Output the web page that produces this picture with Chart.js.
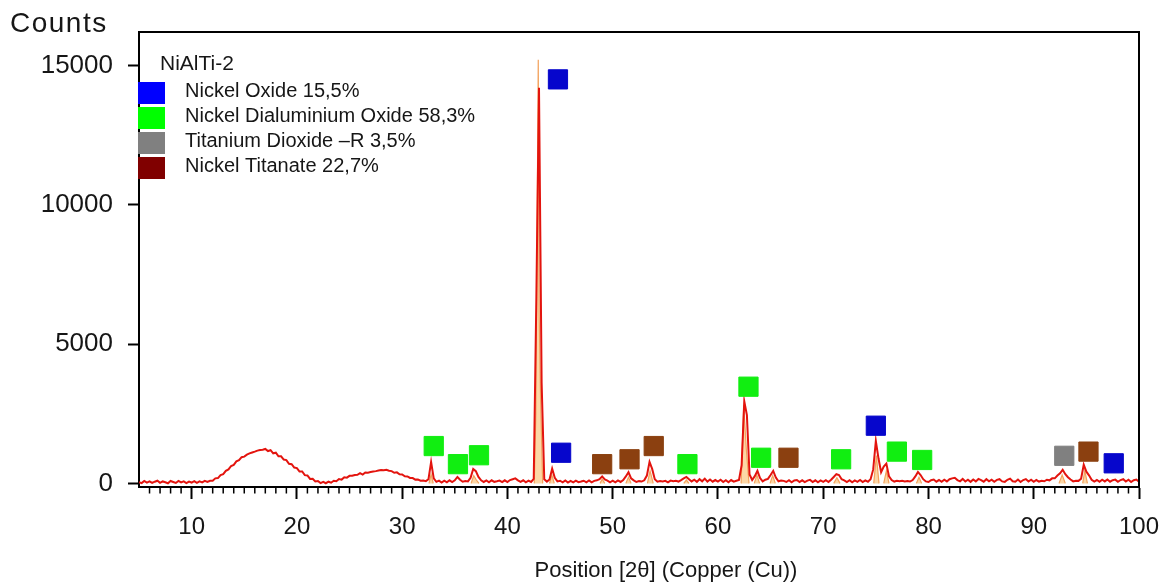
<!DOCTYPE html>
<html>
<head>
<meta charset="utf-8">
<title>NiAlTi-2 XRD</title>
<script src="https://cdn.jsdelivr.net/npm/chart.js@4.4.1/dist/chart.umd.min.js"></script>
<style>
  html, body { margin: 0; padding: 0; background: #fff; }
  #wrap { width: 1160px; height: 584px; }
</style>
</head>
<body>
<div id="wrap"><canvas id="xrd" width="1160" height="584"></canvas></div>
<script>
// ---- Scan: 2θ positions (deg) ----
const twoTheta = [
  5,5.25,5.5,5.75,6,6.25,6.5,6.75,7,7.25,7.5,7.75,8,8.25,8.5,8.75,9,9.25,9.5,9.75,
  10,10.25,10.5,10.75,11,11.25,11.5,11.75,12,12.25,12.5,12.75,13,13.25,13.5,13.75,14,14.25,14.5,14.75,
  15,15.25,15.5,15.75,16,16.25,16.5,16.75,17,17.25,17.5,17.75,18,18.25,18.5,18.75,19,19.25,19.5,19.75,
  20,20.25,20.5,20.75,21,21.25,21.5,21.75,22,22.25,22.5,22.75,23,23.25,23.5,23.75,24,24.25,24.5,24.75,
  25,25.25,25.5,25.75,26,26.25,26.5,26.75,27,27.25,27.5,27.75,28,28.25,28.5,28.75,29,29.25,29.5,29.75,
  30,30.25,30.5,30.75,31,31.25,31.5,31.75,32,32.25,32.5,32.75,33,33.25,33.5,33.75,34,34.25,34.5,34.75,
  35,35.25,35.5,35.75,36,36.25,36.5,36.75,37,37.25,37.5,37.75,38,38.25,38.5,38.75,39,39.25,39.5,39.75,
  40,40.25,40.5,40.75,41,41.25,41.5,41.75,42,42.25,42.5,42.75,43,43.25,43.5,43.75,44,44.25,44.5,44.75,
  45,45.25,45.5,45.75,46,46.25,46.5,46.75,47,47.25,47.5,47.75,48,48.25,48.5,48.75,49,49.25,49.5,49.75,
  50,50.25,50.5,50.75,51,51.25,51.5,51.75,52,52.25,52.5,52.75,53,53.25,53.5,53.75,54,54.25,54.5,54.75,
  55,55.25,55.5,55.75,56,56.25,56.5,56.75,57,57.25,57.5,57.75,58,58.25,58.5,58.75,59,59.25,59.5,59.75,
  60,60.25,60.5,60.75,61,61.25,61.5,61.75,62,62.25,62.5,62.75,63,63.25,63.5,63.75,64,64.25,64.5,64.75,
  65,65.25,65.5,65.75,66,66.25,66.5,66.75,67,67.25,67.5,67.75,68,68.25,68.5,68.75,69,69.25,69.5,69.75,
  70,70.25,70.5,70.75,71,71.25,71.5,71.75,72,72.25,72.5,72.75,73,73.25,73.5,73.75,74,74.25,74.5,74.75,
  75,75.25,75.5,75.75,76,76.25,76.5,76.75,77,77.25,77.5,77.75,78,78.25,78.5,78.75,79,79.25,79.5,79.75,
  80,80.25,80.5,80.75,81,81.25,81.5,81.75,82,82.25,82.5,82.75,83,83.25,83.5,83.75,84,84.25,84.5,84.75,
  85,85.25,85.5,85.75,86,86.25,86.5,86.75,87,87.25,87.5,87.75,88,88.25,88.5,88.75,89,89.25,89.5,89.75,
  90,90.25,90.5,90.75,91,91.25,91.5,91.75,92,92.25,92.5,92.75,93,93.25,93.5,93.75,94,94.25,94.5,94.75,
  95,95.25,95.5,95.75,96,96.25,96.5,96.75,97,97.25,97.5,97.75,98,98.25,98.5,98.75,99,99.25,99.5,99.75,
  100
];

// ---- Measured intensity (counts) at each 2θ ----
const counts = [
  45,10,90,30,75,15,60,95,20,70,40,5,85,50,15,90,35,70,10,65,
  30,80,20,70,35,90,50,95,95,180,190,300,330,450,500,625,665,790,830,940,
  960,1030,1075,1110,1140,1175,1195,1210,1235,1160,1190,1080,1100,970,970,855,835,705,690,570,
  550,425,425,295,285,160,165,70,85,10,55,5,60,25,95,75,155,135,220,205,
  270,275,300,305,365,315,390,385,405,425,440,460,480,475,490,455,440,380,395,325,
  320,255,250,195,190,135,140,95,100,80,150,770,180,55,100,30,95,40,110,50,
  110,230,130,60,85,70,200,520,440,230,110,50,105,40,110,55,75,100,45,110,
  50,120,150,180,110,55,110,40,100,50,160,6700,14200,3600,150,65,140,530,200,70,
  95,40,105,30,90,35,100,45,65,95,40,105,35,90,110,150,250,140,100,40,
  95,35,105,50,120,250,400,180,110,50,80,65,110,280,770,520,150,60,85,70,
  90,35,100,75,90,65,120,180,230,150,70,130,55,150,75,170,65,140,60,120,
  65,130,50,115,40,120,60,95,120,650,2950,2450,320,120,260,450,190,70,130,160,
  300,450,210,75,100,90,50,115,40,105,120,50,110,45,100,125,50,110,40,105,
  55,115,50,130,230,330,300,150,110,50,115,40,105,55,120,45,110,60,150,500,
  1520,900,400,600,710,250,120,65,90,75,95,70,85,65,120,250,410,300,150,70,
  50,115,140,60,120,55,130,70,150,180,200,120,75,160,65,130,55,140,70,160,
  120,60,150,75,135,60,125,150,70,55,130,170,75,60,140,50,120,155,65,130,
  55,120,65,90,75,130,110,180,180,280,360,490,330,220,140,70,95,90,170,670,
  420,290,130,65,120,55,130,70,140,60,115,135,55,120,150,65,130,50,115,140,
  60
];

// ---- Fitted peak profiles (null separates reflections) ----
const profileTheta = [
  32.55,32.75,32.95,33,
  36.55,36.8,37.05,37.3,37.35,
  42.55,42.7,42.93,43.02,43.15,43.35,43.4,
  44,44.22,44.45,44.5,
  48.8,49,49.25,49.3,
  51.25,51.5,51.75,51.8,
  53.3,53.55,53.85,53.9,
  56.75,57,57.25,57.3,
  62.2,62.45,62.7,62.95,63,
  63.45,63.7,63.95,64,
  64.95,65.2,65.45,65.5,
  71,71.3,71.6,71.65,
  74.8,75.05,75.3,75.35,
  75.75,76,76.25,76.3,
  78.85,79.1,79.35,79.4,
  92.4,92.7,93,93.05,
  94.65,94.85,95.1
];
const profileCounts = [
  0,320,0,null,
  0,280,120,0,null,
  0,2500,15200,6000,3000,0,null,
  0,300,0,null,
  0,150,0,null,
  0,220,0,null,
  0,450,0,null,
  0,120,0,null,
  0,2800,1200,0,null,
  0,300,0,null,
  0,280,0,null,
  0,200,0,null,
  0,1000,0,null,
  0,450,0,null,
  0,220,0,null,
  0,300,0,null,
  0,450,0
];

// ---- Phase reference markers ----
const nickelOxideTheta  = [44.8, 45.1, 75.0, 97.6];
const nickelOxideCounts = [14500, 1100, 2070, 720];
const dialuminiumTheta  = [33.0, 35.3, 37.3, 57.1, 62.9, 64.1, 71.7, 77.0, 79.4];
const dialuminiumCounts = [1340, 690, 1010, 690, 3470, 920, 865, 1140, 840];
const titaniaTheta      = [92.9];
const titaniaCounts     = [990];
const titanateTheta     = [49.0, 51.6, 53.9, 66.7, 95.2];
const titanateCounts    = [690, 865, 1340, 920, 1140];

// ---- Legend / text ----
const sampleName = 'NiAlTi-2';
const phaseLabels = [
  'Nickel Oxide 15,5%',
  'Nickel Dialuminium Oxide 58,3%',
  'Titanium Dioxide \u2013R 3,5%',
  'Nickel Titanate 22,7%'
];
const yAxisTitle = 'Counts';
const xAxisTitle = 'Position [2\u03b8] (Copper (Cu))';

// ---- Axis ticks ----
const xTickValues = [10, 20, 30, 40, 50, 60, 70, 80, 90, 100];
const yTickValues = [0, 5000, 10000, 15000];
const xMin = 5, xMax = 100, yMin = -130, yMax = 16200;

// ---- Styles ----
const FONT = '"Liberation Sans", Arial, Helvetica, sans-serif';
const TEXT = '#161616';
const swatchColors = ['#0000ff', '#00ff00', '#808080', '#800000'];
const markerColors = ['#0606cc', '#11ee11', '#808080', '#8b4010'];

const pairs = (xs, ys) => xs.map((x, i) => ({ x, y: ys[i] }));

function markerSet(label, xs, ys, color) {
  return {
    type: 'scatter',
    label,
    data: pairs(xs, ys),
    pointStyle: 'rect',
    pointRadius: 13.6,
    pointHoverRadius: 13.6,
    backgroundColor: color,
    borderColor: color,
    borderWidth: 1,
    order: 0
  };
}

// Frame, minor ticks, axis titles and the phase legend
const decorations = {
  id: 'decorations',
  afterDraw(chart) {
    const { ctx, chartArea: a, scales: { x } } = chart;
    ctx.save();

    // closing top and right edges of the plot box
    ctx.strokeStyle = '#000';
    ctx.lineWidth = 2;
    ctx.beginPath();
    ctx.moveTo(a.left - 1, a.top);
    ctx.lineTo(a.right, a.top);
    ctx.lineTo(a.right, a.bottom);
    ctx.stroke();

    // minor ticks every degree on the 2θ axis
    ctx.lineWidth = 1.5;
    ctx.beginPath();
    for (let v = xMin + 1; v < xMax; v++) {
      if (v % 10 === 0) continue;
      const px = x.getPixelForValue(v);
      ctx.moveTo(px, a.bottom);
      ctx.lineTo(px, a.bottom + 6.5);
    }
    ctx.stroke();

    // axis titles
    ctx.fillStyle = TEXT;
    ctx.textBaseline = 'alphabetic';
    ctx.textAlign = 'left';
    ctx.font = '28px ' + FONT;
    if ('letterSpacing' in ctx) ctx.letterSpacing = '1.5px';
    ctx.fillText(yAxisTitle, 10, 32);
    if ('letterSpacing' in ctx) ctx.letterSpacing = '0px';

    ctx.textAlign = 'center';
    ctx.font = '22px ' + FONT;
    ctx.fillText(xAxisTitle, 666, 577);

    // phase legend in the upper-left corner of the plot
    ctx.textAlign = 'left';
    ctx.font = '21px ' + FONT;
    ctx.fillText(sampleName, 160, 70);
    ctx.font = '20px ' + FONT;
    phaseLabels.forEach((txt, i) => {
      ctx.fillStyle = swatchColors[i];
      ctx.fillRect(a.left - 1, 82 + 25 * i, 27, 22);
      ctx.fillStyle = TEXT;
      ctx.fillText(txt, 185, 97 + 25 * i);
    });
    ctx.restore();
  }
};

new Chart(document.getElementById('xrd'), {
  type: 'line',
  data: {
    datasets: [
      {
        label: 'Observed',
        data: pairs(twoTheta, counts),
        borderColor: '#e3140e',
        borderWidth: 2,
        pointRadius: 0,
        tension: 0,
        fill: false,
        order: 2
      },
      {
        label: 'Peak profile',
        data: pairs(profileTheta, profileCounts),
        borderColor: '#f3a25c',
        backgroundColor: 'rgba(252, 208, 150, 0.85)',
        borderWidth: 1.2,
        pointRadius: 0,
        spanGaps: false,
        fill: 'origin',
        order: 3
      },
      markerSet('Nickel Oxide', nickelOxideTheta, nickelOxideCounts, markerColors[0]),
      markerSet('Nickel Dialuminium Oxide', dialuminiumTheta, dialuminiumCounts, markerColors[1]),
      markerSet('Titanium Dioxide -R', titaniaTheta, titaniaCounts, markerColors[2]),
      markerSet('Nickel Titanate', titanateTheta, titanateCounts, markerColors[3])
    ]
  },
  options: {
    responsive: false,
    animation: false,
    devicePixelRatio: 1,
    layout: { padding: { top: 32, right: 21, left: 0, bottom: 0 } },
    plugins: { legend: { display: false }, tooltip: { enabled: false } },
    scales: {
      x: {
        type: 'linear',
        min: xMin,
        max: xMax,
        afterBuildTicks: s => { s.ticks = xTickValues.map(v => ({ value: v })); },
        afterFit: s => {
          s.height = 97;
          s.paddingLeft = 0; s.paddingRight = 0; s.paddingTop = 0; s.paddingBottom = 0;
        },
        border: { display: true, color: '#000', width: 2 },
        grid: { drawOnChartArea: false, drawTicks: true, tickLength: 12, tickWidth: 2, tickColor: '#000' },
        ticks: { color: TEXT, font: { family: FONT, size: 24 }, padding: 14, maxRotation: 0, autoSkip: false,
                 callback: v => String(v) }
      },
      y: {
        type: 'linear',
        min: yMin,
        max: yMax,
        afterBuildTicks: s => { s.ticks = yTickValues.map(v => ({ value: v })); },
        afterFit: s => {
          s.width = 139;
          s.paddingLeft = 0; s.paddingRight = 0; s.paddingTop = 0; s.paddingBottom = 0;
        },
        border: { display: true, color: '#000', width: 2 },
        grid: { drawOnChartArea: false, drawTicks: true, tickLength: 11, tickWidth: 2, tickColor: '#000' },
        ticks: { color: TEXT, font: { family: FONT, size: 26 }, padding: 15, callback: v => String(v) }
      }
    }
  },
  plugins: [decorations]
});
</script>
</body>
</html>
